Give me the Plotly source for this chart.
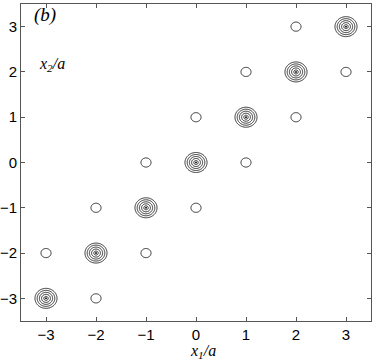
import numpy as np
import plotly.graph_objects as go

# --- дані: положення піків та їх амплітуди ---
diag_x = [-3, -2, -1, 0, 1, 2, 3]
diag_y = [-3, -2, -1, 0, 1, 2, 3]
diag_amp = [1.0, 1.0, 1.0, 1.0, 1.0, 1.0, 1.0]

side_x = [-2, -3, -1, -2, 0, -1, 1, 0, 2, 1, 3, 2]
side_y = [-3, -2, -2, -1, -1, 0, 0, 1, 1, 2, 2, 3]
side_amp = [0.17] * 12

tick_vals = [-3, -2, -1, 0, 1, 2, 3]
R_PEAK = 0.245   # радіус основи піку (у одиницях a)
LINE_COLOR = '#1a1a1a'

# локальна сітка навколо кожного піку
loc = np.round(np.arange(-0.3, 0.3001, 0.01), 4)
LX, LY = np.meshgrid(loc, loc)
LR = np.sqrt(LX ** 2 + LY ** 2)

fig = go.Figure()
for cx, cy, a in zip(diag_x + side_x, diag_y + side_y, diag_amp + side_amp):
    z = np.round(a * np.clip(1 - LR / R_PEAK, 0, None), 4)
    fig.add_trace(go.Contour(
        x=loc + cx, y=loc + cy, z=z,
        contours=dict(start=0.1, end=0.82, size=0.18, coloring='lines'),
        colorscale=[[0, LINE_COLOR], [1, LINE_COLOR]],
        line=dict(width=0.9),
        showscale=False,
        hoverinfo='skip',
    ))

# центральні точки піків
fig.add_trace(go.Scatter(
    x=diag_x, y=diag_y, mode='markers',
    marker=dict(size=2, color=LINE_COLOR),
    hoverinfo='skip', showlegend=False,
))

axis_common = dict(
    range=[-3.5, 3.5],
    tickvals=tick_vals,
    ticks='inside', ticklen=4, tickwidth=1, tickcolor='#555',
    showline=True, linecolor='#555', linewidth=1, mirror='ticks',
    showgrid=False, zeroline=False, automargin=False,
    tickfont=dict(family='Liberation Sans, Arial', size=15, color='black'),
)

fig.update_layout(
    width=374, height=360,
    margin=dict(l=21, r=3, t=4, b=39),
    plot_bgcolor='white', paper_bgcolor='white',
    xaxis=dict(**axis_common),
    yaxis=dict(**axis_common),
    showlegend=False,
    annotations=[
        dict(text='<i>(b)</i>', x=0.03, y=0.965, xref='paper', yref='paper',
             xanchor='left', yanchor='middle', showarrow=False,
             font=dict(family='Liberation Serif, Times New Roman', size=19, color='black')),
        dict(text='<i>x</i><sub><i>2</i></sub><i>/a</i>', x=0.045, y=0.81, xref='paper', yref='paper',
             xanchor='left', yanchor='middle', showarrow=False,
             font=dict(family='Liberation Serif, Times New Roman', size=16, color='black')),
        dict(text='<i>x</i><sub><i>1</i></sub><i>/a</i>', x=0.52, y=-0.095, xref='paper', yref='paper',
             xanchor='center', yanchor='middle', showarrow=False,
             font=dict(family='Liberation Serif, Times New Roman', size=16, color='black')),
    ],
)

fig.write_html("out.html", config={'displayModeBar': False},
               post_script="document.body.style.margin='0';")
